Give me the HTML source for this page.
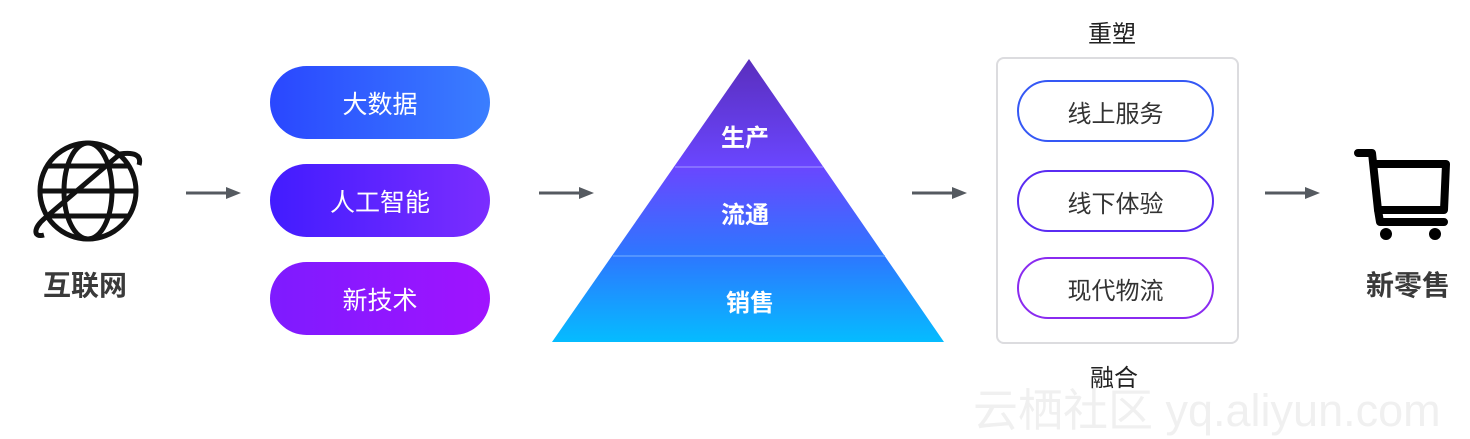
<!DOCTYPE html>
<html><head><meta charset="utf-8"><style>
body{margin:0;width:1470px;height:438px;background:#fff;position:relative;overflow:hidden;font-family:"Liberation Sans","Noto Sans CJK SC",sans-serif}
.a{position:absolute;white-space:nowrap}
.pill{position:absolute;left:270px;width:220px;height:73px;border-radius:37px;color:#fff;font-size:25px;display:flex;align-items:center;justify-content:center}
.op{position:absolute;left:1017px;width:193px;height:58px;border-radius:31px;border:2.5px solid;color:#333;font-size:24px;display:flex;align-items:center;justify-content:center}
.lbl{position:absolute;font-weight:bold;font-size:28px;color:#3a3a3a;transform:translateX(-50%);white-space:nowrap}
</style></head><body>
<div class="a" style="left:973px;top:374px;font-size:45px;color:#f0f0f0">云栖社区 yq.aliyun.com</div>
<svg class="a" style="left:0;top:0" width="1470" height="438">
<defs>
<linearGradient id="pg" x1="0" y1="59" x2="0" y2="342" gradientUnits="userSpaceOnUse">
<stop offset="0" stop-color="#5a2ebd"/><stop offset="0.38" stop-color="#6a46ff"/><stop offset="0.7" stop-color="#2c78ff"/><stop offset="1" stop-color="#05bcff"/></linearGradient>
</defs>
<polygon points="749,59 944,342 552,342" fill="url(#pg)"/>
<line x1="675" y1="167" x2="823" y2="167" stroke="#8f7dff" stroke-width="1.5"/>
<line x1="613" y1="256" x2="885" y2="256" stroke="#5f9dff" stroke-width="1.5"/>
<g stroke="#555a60" stroke-width="3">
<line x1="186" y1="193" x2="228" y2="193"/><path d="M226,187L241,193L226,199z" fill="#555a60" stroke="none"/>
<line x1="539" y1="193" x2="581" y2="193"/><path d="M579,187L594,193L579,199z" fill="#555a60" stroke="none"/>
<line x1="912" y1="193" x2="954" y2="193"/><path d="M952,187L967,193L952,199z" fill="#555a60" stroke="none"/>
<line x1="1265" y1="193" x2="1307" y2="193"/><path d="M1305,187L1320,193L1305,199z" fill="#555a60" stroke="none"/>
</g>
<g fill="none" stroke="#111" stroke-width="5">
<circle cx="88" cy="191" r="48"/>
<ellipse cx="88" cy="191" rx="24" ry="48"/>
<line x1="40" y1="191" x2="136" y2="191"/>
<line x1="46" y1="166" x2="130" y2="166"/>
<line x1="46" y1="216" x2="130" y2="216"/>
<path d="M120,154C134,152 142,155 139,165"/>
<path d="M120,154L45,218C33,228 33,238 44,235"/>
</g>
<g fill="none" stroke="#000" stroke-width="8" stroke-linejoin="round" stroke-linecap="round">
<path d="M1358,153L1372,153L1378,210L1444,210L1446,164L1376,164"/>
<path d="M1378,210L1380,222L1444,222"/>
</g>
<circle cx="1386" cy="234" r="6" fill="#000"/><circle cx="1435" cy="234" r="6" fill="#000"/>
</svg>
<div class="pill" style="top:66px;background:linear-gradient(90deg,#2a47ff,#3a7eff)">大数据</div>
<div class="pill" style="top:164px;background:linear-gradient(90deg,#421cff,#7b2dff)">人工智能</div>
<div class="pill" style="top:262px;background:linear-gradient(90deg,#7e1bff,#a013ff)">新技术</div>
<div class="a" style="left:721px;top:118px;color:#fff;font-weight:bold;font-size:24px">生产</div>
<div class="a" style="left:721px;top:195px;color:#fff;font-weight:bold;font-size:24px">流通</div>
<div class="a" style="left:726px;top:283px;color:#fff;font-weight:bold;font-size:24px">销售</div>
<div class="a" style="left:996px;top:57px;width:239px;height:283px;border:2px solid #dcdcdf;border-radius:8px"></div>
<div class="op" style="top:80px;border-color:#3558f5">线上服务</div>
<div class="op" style="top:170px;border-color:#5a2cf2">线下体验</div>
<div class="op" style="top:257px;border-color:#8a2bf0">现代物流</div>
<div class="a" style="left:1088px;top:14px;font-size:24px;color:#222">重塑</div>
<div class="a" style="left:1090px;top:358px;font-size:24px;color:#222">融合</div>
<div class="lbl" style="left:85px;top:264px">互联网</div>
<div class="lbl" style="left:1408px;top:264px">新零售</div>
</body></html>
